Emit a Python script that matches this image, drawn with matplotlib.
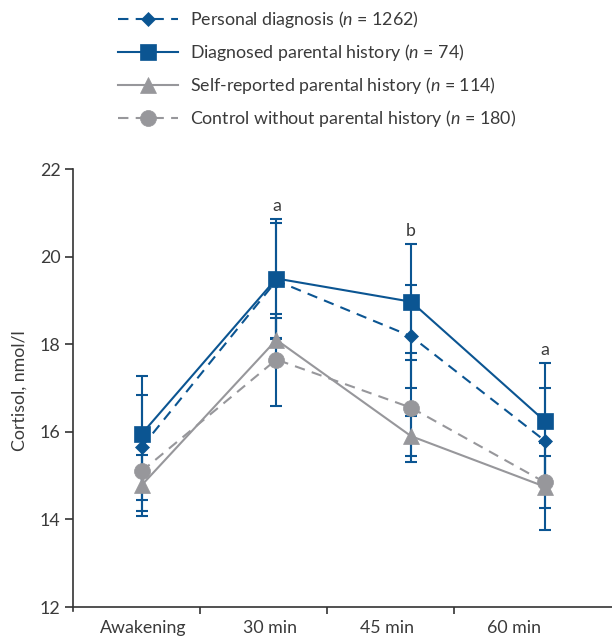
import matplotlib

matplotlib.use("Agg")
import matplotlib.pyplot as plt  # noqa: E402
from matplotlib.lines import Line2D  # noqa: E402

BLUE = "#0b5592"
GREY = "#97979b"
TEXT = "#3a3a3a"

plt.rcParams["font.family"] = ["Lato", "DejaVu Sans"]
plt.rcParams["mathtext.fontset"] = "custom"
plt.rcParams["mathtext.rm"] = "Lato"
plt.rcParams["mathtext.it"] = "Lato:italic"

# ---------------------------------------------------------------------------
# Data
# ---------------------------------------------------------------------------
time_labels = ["Awakening", "30 min", "45 min", "60 min"]
label_pos = [0.55, 1.55, 2.47, 3.47]   # where the category names sit
boundaries = [1, 2, 3]                 # tick marks between categories
time_pos = [0.54, 1.60, 2.66, 3.71]    # where the measurements are drawn

group_names = [
    "Personal diagnosis",
    "Diagnosed parental history",
    "Self-reported parental history",
    "Control without parental history",
]
group_n = [1262, 74, 114, 180]

mean_personal = [15.65, 19.45, 18.18, 15.80]
err_personal = [1.20, 1.32, 1.17, 1.20]
mean_diagnosed = [15.95, 19.50, 18.97, 16.25]
err_diagnosed = [1.32, 1.35, 1.32, 1.31]
mean_selfrep = [14.78, 18.10, 15.90, 14.75]
err_selfrep = [0.70, 0.50, 0.45, 1.00]
mean_control = [15.10, 17.65, 16.55, 14.85]
err_control = [0.90, 1.05, 1.25, 0.60]

sig_letters = ["", "a", "b", "a"]

# ---------------------------------------------------------------------------
# Styles per group
# ---------------------------------------------------------------------------
styles = {
    "personal": dict(color=BLUE, marker="D", ms=7.6, ls=(0, (5, 3.5))),
    "diagnosed": dict(color=BLUE, marker="s", ms=11, ls="-"),
    "selfrep": dict(color=GREY, marker="^", ms=11.5, ls="-"),
    "control": dict(color=GREY, marker="o", ms=11.5, ls=(0, (5, 3.5))),
}
series = {
    "personal": (mean_personal, err_personal),
    "diagnosed": (mean_diagnosed, err_diagnosed),
    "selfrep": (mean_selfrep, err_selfrep),
    "control": (mean_control, err_control),
}
keys = ["personal", "diagnosed", "selfrep", "control"]

fig = plt.figure(figsize=(6.12, 6.39), dpi=100)
ax = fig.add_axes([73 / 612, 1 - 611.4 / 639, 539 / 612, (611.4 - 169) / 639])

# error bars (all drawn in blue, below the markers)
for k in keys:
    m, e = series[k]
    ax.errorbar(time_pos, m, yerr=e, fmt="none", ecolor=BLUE, elinewidth=1.5,
                capsize=4.5, capthick=1.5, zorder=2)

# lines + markers, grey groups first so blue sits on top
for k in ["selfrep", "control", "personal", "diagnosed"]:
    m, _ = series[k]
    st = styles[k]
    ax.plot(time_pos, m, color=st["color"], linestyle=st["ls"], linewidth=1.5,
            marker=st["marker"], markersize=st["ms"], markeredgewidth=0.5,
            markeredgecolor=st["color"], zorder=3)

# significance letters above the highest error cap
for i, letter in enumerate(sig_letters):
    if not letter:
        continue
    top = max(series[k][0][i] + series[k][1][i] for k in keys)
    ax.annotate(letter, (time_pos[i], top), xytext=(0, 6), textcoords="offset points",
                ha="center", va="baseline", fontsize=12.8, color=TEXT)

# axes
ax.set_xlim(0, 4.24)
ax.set_ylim(11.9, 22)
ax.set_yticks([12, 14, 16, 18, 20, 22])
ax.set_xticks(boundaries)
ax.set_xticklabels([])
ax.set_xticks(label_pos, minor=True)
ax.set_xticklabels(time_labels, minor=True)
ax.tick_params(axis="x", which="major", direction="out", length=5, width=1.2, color="#333333")
ax.tick_params(axis="x", which="minor", length=0, pad=9, labelsize=12.8, labelcolor=TEXT)
ax.tick_params(axis="y", direction="out", length=6, width=1.2, color="#333333",
               labelsize=12.8, labelcolor=TEXT, pad=3)
for side in ["top", "right"]:
    ax.spines[side].set_visible(False)
for side in ["left", "bottom"]:
    ax.spines[side].set_linewidth(1.2)
    ax.spines[side].set_color("#333333")
ax.spines["bottom"].set_position(("data", 12))
ax.set_ylabel("Cortisol, nmol/l", fontsize=12.8, color=TEXT)
ax.yaxis.set_label_coords(-0.0835, 0.5)

# legend
handles = []
labels = []
for k, name, n in zip(keys, group_names, group_n):
    st = styles[k]
    handles.append(Line2D([], [], color=st["color"], linestyle=st["ls"], linewidth=1.5,
                          marker=st["marker"], markersize=st["ms"], markeredgewidth=0.5,
                          markeredgecolor=st["color"]))
    labels.append(f"{name} ($n$ = {n})")
fig.legend(handles, labels, loc="upper left", bbox_to_anchor=(118 / 612, 1 - 9 / 639),
           frameon=False, fontsize=12.8, handlelength=3.4, handletextpad=0.65,
           labelspacing=0.68, borderpad=0, borderaxespad=0, labelcolor=TEXT)

fig.savefig("out.png", dpi=100)
